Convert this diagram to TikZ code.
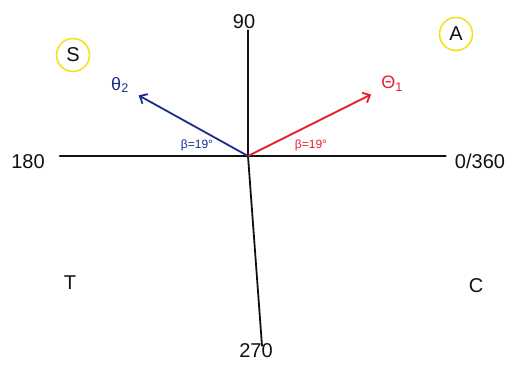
\documentclass[tikz,border=0pt]{standalone}
\usepackage{fontspec}
\setmainfont{Liberation Sans}
\usetikzlibrary{arrows.meta, positioning}
\definecolor{ink}{HTML}{111111}
\definecolor{rd}{HTML}{E8202E}
\definecolor{bl}{HTML}{1A2C8C}
\definecolor{yl}{HTML}{F2E21A}
\tikzset{
  ax/.style={draw=ink, line width=1.8pt, line cap=round},
  lb/.style={font=\fontsize{20}{22}\selectfont, text=ink, inner sep=1pt},
  gr/.style={font=\fontsize{18}{20}\selectfont, inner sep=1pt},
  ang/.style={font=\fontsize{12}{14}\selectfont, inner sep=1pt},
  vec/.style={line width=1.8pt, -{Straight Barb[length=6pt, width=11pt]}, shorten >=10pt},
  ring/.style={lb, circle, draw=yl, line width=1.6pt, minimum size=33pt, inner sep=1pt},
}
\begin{document}
\begin{tikzpicture}[x=1pt, y=-1pt]
\useasboundingbox (0,0) rectangle (519,364);
\coordinate (o) at (248,156);
\node[lb] (n90) at (244,22) {90};
\node[lb] (n180) at (28,162) {180};
\node[lb] (n0) at (480,161) {0/360};
\node[lb] (n270) at (256,351) {270};
\node[gr, text=rd] (t1) at (392,84) {Θ\textsubscript{1}};
\node[gr, text=bl] (t2) at (120,85) {θ\textsubscript{2}};
\node[ang, text=rd] (b1) at (311,145) {β=19°};
\node[ang, text=bl] (b2) at (197,145) {β=19°};
\node[ring] (qs) at (73,55) {S};
\node[ring] (qa) at (456,34) {A};
\node[lb] (qt) at (70,283) {T};
\node[lb] (qc) at (476,286) {C};

\draw[ax] ([xshift=14pt]n180.east |- o) -- (o) -- ([xshift=-8pt]n0.west |- o);
\draw[ax] (o |- n90.south) -- (o) -- ([xshift=6pt, yshift=-3pt]n270.north);
\draw[vec, rd] (o) -- (t1);
\draw[vec, bl] (o) -- (t2);
\end{tikzpicture}
\end{document}
